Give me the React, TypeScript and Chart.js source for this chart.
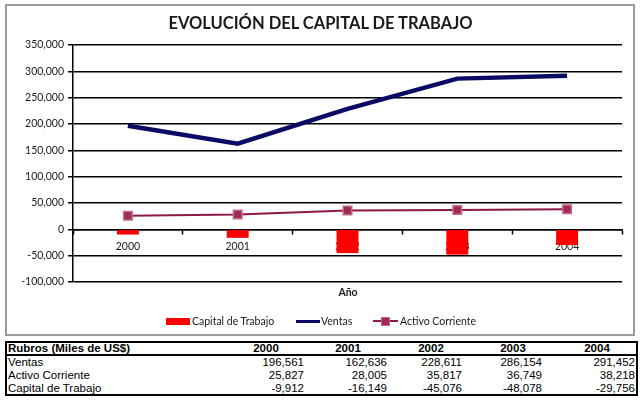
import React, { useEffect, useRef } from "react";
import { Chart, registerables } from "chart.js";

Chart.register(...registerables);

const years = ["2000", "2001", "2002", "2003", "2004"];
const ventas = [196561, 162636, 228611, 286154, 291452];
const activoCorriente = [25827, 28005, 35817, 36749, 38218];
const capitalTrabajo = [-9912, -16149, -45076, -48078, -29756];
const yTicks = { min: -100000, max: 350000, step: 50000 };

const tableRows = [
  { label: "Ventas", values: ventas },
  { label: "Activo Corriente", values: activoCorriente },
  { label: "Capital de Trabajo", values: capitalTrabajo },
];

const fmt = (v: number) => v.toLocaleString("en-US");

const headerCenters = [266, 348, 431, 513, 597];
const valueRights = [304, 387, 462, 542, 635];
const rowCenters = [362, 374.5, 387.5];

const chartFont = "Lato, 'Liberation Sans', sans-serif";
const tableFont = "'Liberation Sans', Arial, sans-serif";

export default function App() {
  const ref = useRef<HTMLCanvasElement | null>(null);

  useEffect(() => {
    if (!ref.current) return;
    const chart = new Chart(ref.current, {
      type: "bar",
      data: {
        labels: years,
        datasets: [
          {
            type: "line",
            label: "Ventas",
            data: ventas,
            borderColor: "#0B0B66",
            backgroundColor: "#0B0B66",
            borderWidth: 4.5,
            pointRadius: 0,
            tension: 0,
            order: 1,
          },
          {
            type: "line",
            label: "Activo Corriente",
            data: activoCorriente,
            borderColor: "#8C1A48",
            backgroundColor: "#9E2A55",
            borderWidth: 2,
            pointStyle: "rect",
            pointRadius: 6,
            pointBorderColor: "#C46A88",
            pointBackgroundColor: "#9E2A55",
            pointBorderWidth: 1.5,
            tension: 0,
            order: 2,
          },
          {
            type: "bar",
            label: "Capital de Trabajo",
            data: capitalTrabajo,
            backgroundColor: "#FF0000",
            borderWidth: 0,
            barPercentage: 0.2,
            categoryPercentage: 1,
            order: 3,
          },
        ],
      },
      options: {
        animation: false,
        responsive: false,
        maintainAspectRatio: false,
        layout: { padding: { left: 8, right: 21, top: 45, bottom: 18 } },
        plugins: {
          legend: { display: false },
          title: { display: false },
          tooltip: { enabled: false },
        },
        scales: {
          x: {
            type: "category",
            position: { y: 0 } as any,
            z: 1,
            grid: {
              display: true,
              drawOnChartArea: false,
              drawTicks: true,
              tickLength: 4,
              tickWidth: 1.5,
              tickColor: "#000",
              offset: true,
            },
            border: { display: true, color: "#000", width: 1.5 },
            ticks: {
              color: "#1a1a1a",
              font: { family: chartFont, size: 10.5 },
              padding: 7,
              maxRotation: 0,
            },
          },
          y: {
            min: yTicks.min,
            max: yTicks.max,
            afterFit: (s: any) => {
              s.width = 65;
            },
            grid: {
              color: "#000",
              lineWidth: 1.5,
              tickLength: 5,
              tickColor: "#000",
            },
            border: { display: true, color: "#000", width: 1.5 },
            ticks: {
              stepSize: yTicks.step,
              color: "#1a1a1a",
              font: { family: chartFont, size: 10.5 },
              padding: 4,
              callback: (v: any) => fmt(Number(v)),
            },
          },
        },
      },
    });
    return () => chart.destroy();
  }, []);

  const abs = (s: React.CSSProperties): React.CSSProperties => ({ position: "absolute", ...s });

  return (
    <div style={{ position: "fixed", left: 0, top: 0, width: 643, height: 400, background: "#fff", overflow: "hidden" }}>
      <div style={abs({ left: 5, top: 4, width: 626, height: 328, border: "2px solid #9a9a9a" })} />
      <canvas ref={ref} width={643} height={300} style={abs({ left: 0, top: 0, width: 643, height: 300 })} />
      <div
        style={abs({
          left: 0,
          width: 641,
          top: 12,
          textAlign: "center",
          fontFamily: chartFont,
          fontWeight: 700,
          fontSize: 16.5,
          lineHeight: "22px",
          color: "#1a1a1a",
        })}
      >
        EVOLUCIÓN DEL CAPITAL DE TRABAJO
      </div>
      <div
        style={abs({
          left: 298,
          width: 100,
          top: 285,
          textAlign: "center",
          fontFamily: chartFont,
          fontWeight: 700,
          fontSize: 10.5,
          lineHeight: "14px",
          color: "#1a1a1a",
        })}
      >
        Año
      </div>
      {/* legend */}
      <div style={abs({ left: 166, top: 318, width: 24, height: 7, background: "#FF0000" })} />
      <div style={abs({ left: 192, top: 314, fontFamily: chartFont, fontSize: 10.5, lineHeight: "14px", color: "#1a1a1a", whiteSpace: "nowrap" })}>
        Capital de Trabajo
      </div>
      <div style={abs({ left: 296, top: 320, width: 24, height: 3, background: "#0B0B66" })} />
      <div style={abs({ left: 321, top: 314, fontFamily: chartFont, fontSize: 10.5, lineHeight: "14px", color: "#1a1a1a", whiteSpace: "nowrap" })}>
        Ventas
      </div>
      <div style={abs({ left: 373, top: 320, width: 25, height: 2, background: "#8C1A48" })} />
      <div style={abs({ left: 381, top: 317, width: 7, height: 7, background: "#9E2A55", border: "1px solid #C46A88" })} />
      <div style={abs({ left: 400, top: 314, fontFamily: chartFont, fontSize: 10.5, lineHeight: "14px", color: "#1a1a1a", whiteSpace: "nowrap" })}>
        Activo Corriente
      </div>
      {/* table */}
      <div style={abs({ left: 5, top: 341, width: 629, height: 51, border: "2px solid #000" })} />
      <div style={abs({ left: 7, top: 354, width: 629, height: 2, background: "#000" })} />
      <div
        style={abs({
          left: 8,
          top: 342,
          fontFamily: tableFont,
          fontWeight: 700,
          fontSize: 11.5,
          lineHeight: "13px",
          color: "#000",
          whiteSpace: "nowrap",
        })}
      >
        Rubros (Miles de US$)
      </div>
      {years.map((y, i) => (
        <div
          key={y}
          style={abs({
            left: headerCenters[i] - 30,
            width: 60,
            top: 342,
            textAlign: "center",
            fontFamily: tableFont,
            fontWeight: 700,
            fontSize: 11.5,
            lineHeight: "13px",
            color: "#000",
          })}
        >
          {y}
        </div>
      ))}
      {tableRows.map((r, ri) => (
        <React.Fragment key={r.label}>
          <div
            style={abs({
              left: 8,
              top: rowCenters[ri] - 7,
              fontFamily: tableFont,
              fontSize: 11.5,
              lineHeight: "14px",
              color: "#000",
              whiteSpace: "nowrap",
            })}
          >
            {r.label}
          </div>
          {r.values.map((v, i) => (
            <div
              key={i}
              style={abs({
                left: valueRights[i] - 70,
                width: 70,
                top: rowCenters[ri] - 7,
                textAlign: "right",
                fontFamily: tableFont,
                fontSize: 11.5,
                lineHeight: "14px",
                color: "#000",
              })}
            >
              {fmt(v)}
            </div>
          ))}
        </React.Fragment>
      ))}
    </div>
  );
}
